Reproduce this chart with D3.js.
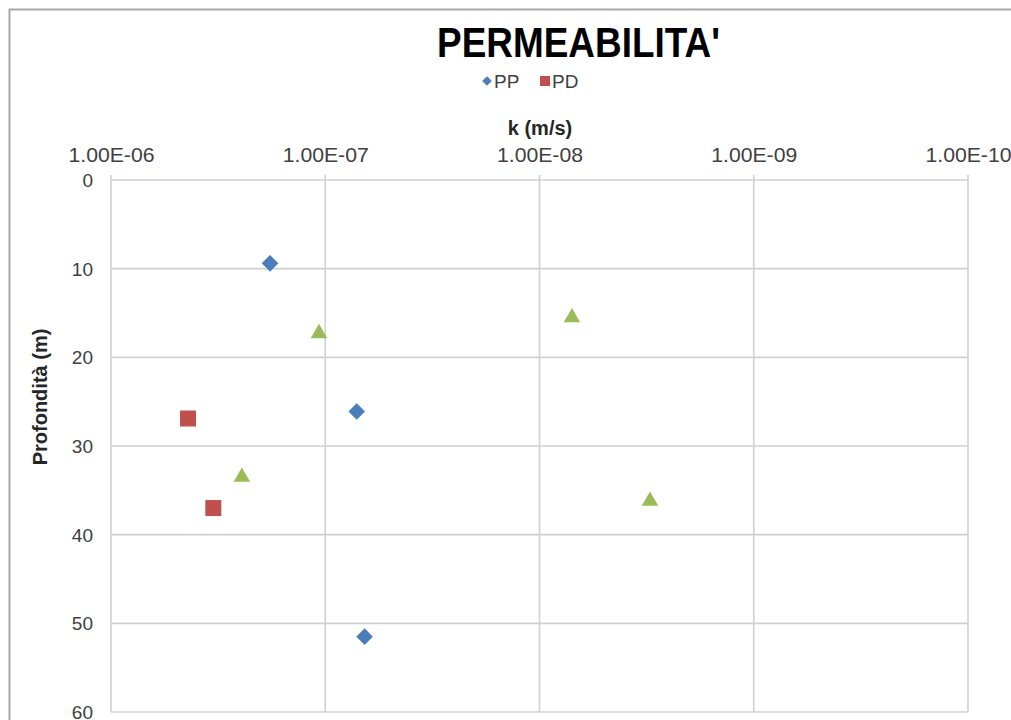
<!DOCTYPE html>
<html>
<head>
<meta charset="utf-8">
<script src="https://cdn.jsdelivr.net/npm/d3@7"></script>
<style>
  html, body { margin: 0; padding: 0; background: #fff; }
  svg { display: block; font-family: "Liberation Sans", Arial, sans-serif; }
</style>
</head>
<body>
<div id="chart"></div>
<script>
// permeability vs depth, log k axis reversed (1e-6 on the left)
const xTickValues = [1e-6, 1e-7, 1e-8, 1e-9, 1e-10];
const xTickLabels = ['1.00E-06', '1.00E-07', '1.00E-08', '1.00E-09', '1.00E-10'];
const yTickValues = [0, 10, 20, 30, 40, 50, 60];

// PP — diamonds
const ppK     = [1.81e-7, 7.13e-8, 6.55e-8];
const ppDepth = [9.4, 26.1, 51.5];
// PD — squares
const pdK     = [4.37e-7, 3.33e-7];
const pdDepth = [26.9, 37.0];
// third series (no legend entry) — triangles
const trK     = [1.07e-7, 7.06e-9, 2.45e-7, 3.05e-9];
const trDepth = [17.3, 15.5, 33.5, 36.2];

const W = 1011, H = 720;
const plot = { left: 111, right: 968, top: 180, bottom: 712 };

const svg = d3.select('#chart').append('svg')
  .attr('width', W).attr('height', H);

/* -------- outer frame (cropped) -------- */
svg.append('rect')
  .attr('x', 9.5).attr('y', 9.5)
  .attr('width', W + 20).attr('height', H + 20)
  .attr('fill', 'none').attr('stroke', '#a8a8a8').attr('stroke-width', 2);

const x = d3.scaleLog().domain([1e-6, 1e-10]).range([plot.left, plot.right]);
const y = d3.scaleLinear().domain([0, 60]).range([plot.top, plot.bottom]);

/* -------- grid -------- */
const grid = svg.append('g').attr('stroke', '#d0d0d0').attr('stroke-width', 1.6);
grid.selectAll('.gx').data(xTickValues).enter().append('line')
  .attr('x1', d => x(d)).attr('x2', d => x(d))
  .attr('y1', plot.top - 5).attr('y2', plot.bottom);
grid.selectAll('.gy').data(yTickValues).enter().append('line')
  .attr('x1', plot.left).attr('x2', plot.right)
  .attr('y1', d => y(d)).attr('y2', d => y(d));

/* -------- axes labels -------- */
const xAxis = svg.append('g')
  .attr('transform', `translate(0,${plot.top - 8})`)
  .call(d3.axisTop(x).tickValues(xTickValues)
    .tickFormat((d, i) => xTickLabels[i]).tickSize(0).tickPadding(10));
xAxis.select('.domain').remove();
xAxis.selectAll('text')
  .attr('fill', '#404040').style('font-size', '20px')
  .attr('textLength', 86).attr('lengthAdjust', 'spacingAndGlyphs');

const yAxis = svg.append('g')
  .attr('transform', `translate(${plot.left},0)`)
  .call(d3.axisLeft(y).tickValues(yTickValues).tickSize(0).tickPadding(18));
yAxis.select('.domain').remove();
yAxis.selectAll('text')
  .attr('fill', '#404040').style('font-size', '19px').attr('dy', '0.34em');

/* -------- titles -------- */
svg.append('text')
  .attr('x', 437).attr('y', 57)
  .style('font-size', '43px').style('font-weight', 700)
  .attr('textLength', 283).attr('lengthAdjust', 'spacingAndGlyphs')
  .attr('fill', '#000')
  .text("PERMEABILITA'");

svg.append('text')
  .attr('x', 540).attr('y', 135)
  .attr('text-anchor', 'middle')
  .style('font-size', '20px').style('font-weight', 700)
  .attr('fill', '#262626')
  .text('k (m/s)');

svg.append('text')
  .attr('transform', 'translate(47,397) rotate(-90)')
  .attr('text-anchor', 'middle')
  .style('font-size', '20px').style('font-weight', 700)
  .attr('fill', '#262626')
  .text('Profondità (m)');

/* -------- legend -------- */
const legend = svg.append('g').attr('transform', 'translate(487,81)');
legend.append('path')
  .attr('d', d3.symbol(d3.symbolDiamond2, 60)())
  .attr('fill', '#4a7ebb');
legend.append('text').attr('x', 7).attr('y', 7)
  .style('font-size', '19px').attr('fill', '#404040').text('PP');
legend.append('rect').attr('x', 53).attr('y', -5).attr('width', 10).attr('height', 10)
  .attr('fill', '#c0504d');
legend.append('text').attr('x', 65).attr('y', 7)
  .style('font-size', '19px').attr('fill', '#404040').text('PD');

/* -------- points -------- */
const pts = svg.append('g');
pts.selectAll('.pp').data(ppK).enter().append('path')
  .attr('transform', (d, i) => `translate(${x(d)},${y(ppDepth[i])})`)
  .attr('d', d3.symbol(d3.symbolDiamond2, 175)())
  .attr('fill', '#4a7ebb');

pts.selectAll('.pd').data(pdK).enter().append('rect')
  .attr('x', d => x(d) - 8)
  .attr('y', (d, i) => y(pdDepth[i]) - 8)
  .attr('width', 16).attr('height', 16)
  .attr('fill', '#c0504d');

pts.selectAll('.tr').data(trK).enter().append('path')
  .attr('transform', (d, i) => `translate(${x(d)},${y(trDepth[i])})`)
  .attr('d', d3.symbol(d3.symbolTriangle2, 195)())
  .attr('fill', '#9bbb59');
</script>
</body>
</html>
